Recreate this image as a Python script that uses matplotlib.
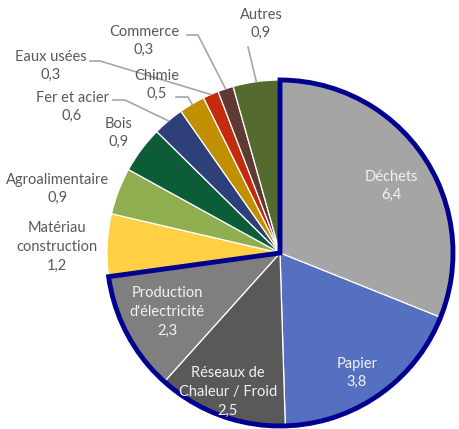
import numpy as np
import matplotlib.pyplot as plt
from matplotlib.patches import Wedge

plt.rcParams['font.family'] = ['Lato', 'DejaVu Sans']

# data, in clockwise order from 12 o'clock
secteurs = ['Déchets', 'Papier', 'Réseaux de\nChaleur / Froid', "Production\nd'électricité",
            'Matériau\nconstruction', 'Agroalimentaire', 'Bois', 'Fer et acier',
            'Chimie', 'Eaux usées', 'Commerce', 'Autres']
valeurs = [6.4, 3.8, 2.5, 2.3, 1.2, 0.9, 0.9, 0.6, 0.5, 0.3, 0.3, 0.9]
couleurs = ['#A5A5A5', '#5570C0', '#595959', '#7F7F7F', '#FFCF44', '#8FAE4F',
            '#0D5C38', '#2E3F7A', '#C09000', '#C42B0E', '#5E3A32', '#556A2F']
n_groupe = 4  # first four slices outlined

W, H = 459, 429
cx, cy, R = 280, H - 253, 173

fig = plt.figure(figsize=(W / 100, H / 100), dpi=100)
ax = fig.add_axes([0, 0, 1, 1])

wedges, _ = ax.pie(valeurs, colors=couleurs, startangle=90, counterclock=False,
                   center=(cx, cy), radius=R, frame=True,
                   wedgeprops=dict(edgecolor='white', linewidth=0.9))
ax.set_xlim(0, W)
ax.set_ylim(0, H)
ax.set_aspect('equal')
ax.axis('off')

total = sum(valeurs)
cum = np.cumsum(valeurs)
fin_groupe = 90 - 360 * cum[n_groupe - 1] / total
ax.add_patch(Wedge((cx, cy), R, fin_groupe, 90, fill=False,
                   edgecolor='#000091', linewidth=3.5, joinstyle='miter', zorder=5))

def fmt(v):
    return f'{v:.1f}'.replace('.', ',')

fs = 10.5
ls = 1.42

# inside labels (pixel positions, y from top)
inside = {0: (391, 186), 1: (357, 373), 2: (228, 392), 3: (167, 312)}
for i, (x, y) in inside.items():
    ax.text(x, H - y, secteurs[i] + '\n' + fmt(valeurs[i]), ha='center', va='center',
            color='#F2F2F2', fontsize=fs, linespacing=ls, zorder=6)

# outside labels: text centre, and the elbow of the leader line
outside = {
    11: ((261, 24), [(248, 47)]),
    10: ((144, 41), [(187, 35), (198, 35)]),
    9: ((51, 66), [(90, 61), (100, 61)]),
    8: ((157, 85), [(176, 97), (188, 97)]),
    7: ((72, 107), [(113, 100), (125, 100)]),
    6: ((119, 133), None),
    5: ((58, 189), None),
    4: ((57, 247), None),
}
for i, ((x, y), pts) in outside.items():
    ax.text(x, H - y, secteurs[i] + '\n' + fmt(valeurs[i]), ha='center', va='center',
            color='#595959', fontsize=fs, linespacing=ls)
    if pts:
        mid = 90 - 360 * (cum[i] - valeurs[i] / 2) / total
        ex = cx + R * np.cos(np.radians(mid))
        ey = cy + R * np.sin(np.radians(mid))
        xs = [p[0] for p in pts] + [ex]
        ys = [H - p[1] for p in pts] + [ey]
        ax.plot(xs, ys, color='#A6A6A6', linewidth=1.2, zorder=1)

fig.savefig('out.png', dpi=100)
